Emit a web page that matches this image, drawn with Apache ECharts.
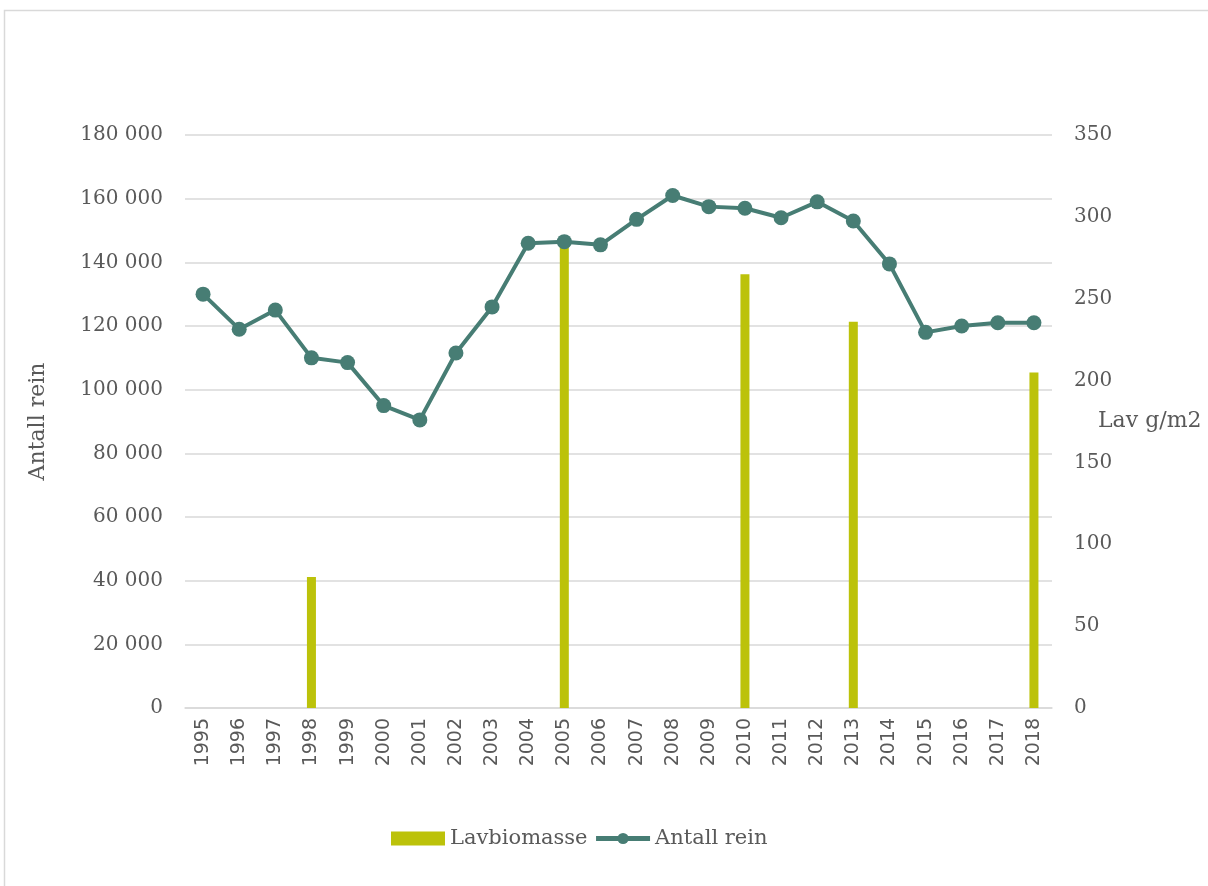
<!DOCTYPE html>
<html><head><meta charset="utf-8">
<script src="https://cdn.jsdelivr.net/npm/echarts@6/dist/echarts.min.js"></script>
<style>html,body{margin:0;padding:0;background:#fff}#c{width:1208px;height:886px}</style>
</head><body><div id="c"></div>
<script>
const years = ['1995','1996','1997','1998','1999','2000','2001','2002','2003','2004','2005','2006','2007','2008','2009','2010','2011','2012','2013','2014','2015','2016','2017','2018'];
const lavbiomasse = [null,null,null,80,null,null,null,null,null,null,285,null,null,null,null,265,null,null,236,null,null,null,null,205];
const antallRein = [130000,119000,125000,110000,108500,95000,90500,111500,126000,146000,146500,145500,153500,161000,157500,157000,154000,159000,153000,139500,118000,120000,121000,121000];
const serif = 'DejaVu Serif';
const txt = '#595959';
const chart = echarts.init(document.getElementById('c'));
chart.setOption({
  animation:false,
  graphic:[{type:'rect',shape:{x:4.5,y:10.5,width:1220,height:880},style:{fill:'none',stroke:'#d9d9d9',lineWidth:1.5}}],
  grid:{left:185,right:156,top:135,bottom:178,containLabel:false,outerBoundsMode:'none'},
  legend:{bottom:32,left:386,itemGap:6,textStyle:{fontFamily:serif,fontSize:21,color:txt},
    lineStyle:{width:5},
    data:[{name:'Lavbiomasse',icon:'rect'},{name:'Antall rein'}],itemWidth:54,itemHeight:14},
  xAxis:{type:'category',data:years,boundaryGap:true,
    axisLine:{lineStyle:{color:'#d9d9d9',width:1.5}},axisTick:{show:false},
    axisLabel:{rotate:90,fontFamily:'DejaVu Sans',fontSize:19,color:txt,margin:10}},
  yAxis:[{type:'value',min:0,max:180000,interval:20000,name:'Antall rein',nameLocation:'middle',nameGap:136,
    nameTextStyle:{fontFamily:serif,fontSize:22,color:txt},
    axisLabel:{fontFamily:serif,fontSize:20,color:txt,margin:22,formatter:v=>v===0?'0':(Math.floor(v/1000)+' '+String(v%1000).padStart(3,'0'))},
    splitLine:{lineStyle:{color:'#d9d9d9',width:1.5}},axisLine:{show:false},axisTick:{show:false}},
   {type:'value',min:0,max:350,interval:50,name:'Lav g/m2',nameLocation:'middle',nameRotate:0,nameGap:46,nameMoveOverlap:false,
    nameTextStyle:{fontFamily:serif,fontSize:22,color:txt,align:'left',verticalAlign:'middle'},
    axisLabel:{fontFamily:serif,fontSize:20,color:txt,margin:22},
    splitLine:{show:false},axisLine:{show:false},axisTick:{show:false}}],
  series:[
    {name:'Lavbiomasse',type:'bar',yAxisIndex:1,data:lavbiomasse,barWidth:9,itemStyle:{color:'#bcc20a'}},
    {name:'Antall rein',type:'line',yAxisIndex:0,data:antallRein,symbol:'circle',symbolSize:15,
      lineStyle:{color:'#477d74',width:4},itemStyle:{color:'#477d74'}}
  ]
});
</script></body></html>
